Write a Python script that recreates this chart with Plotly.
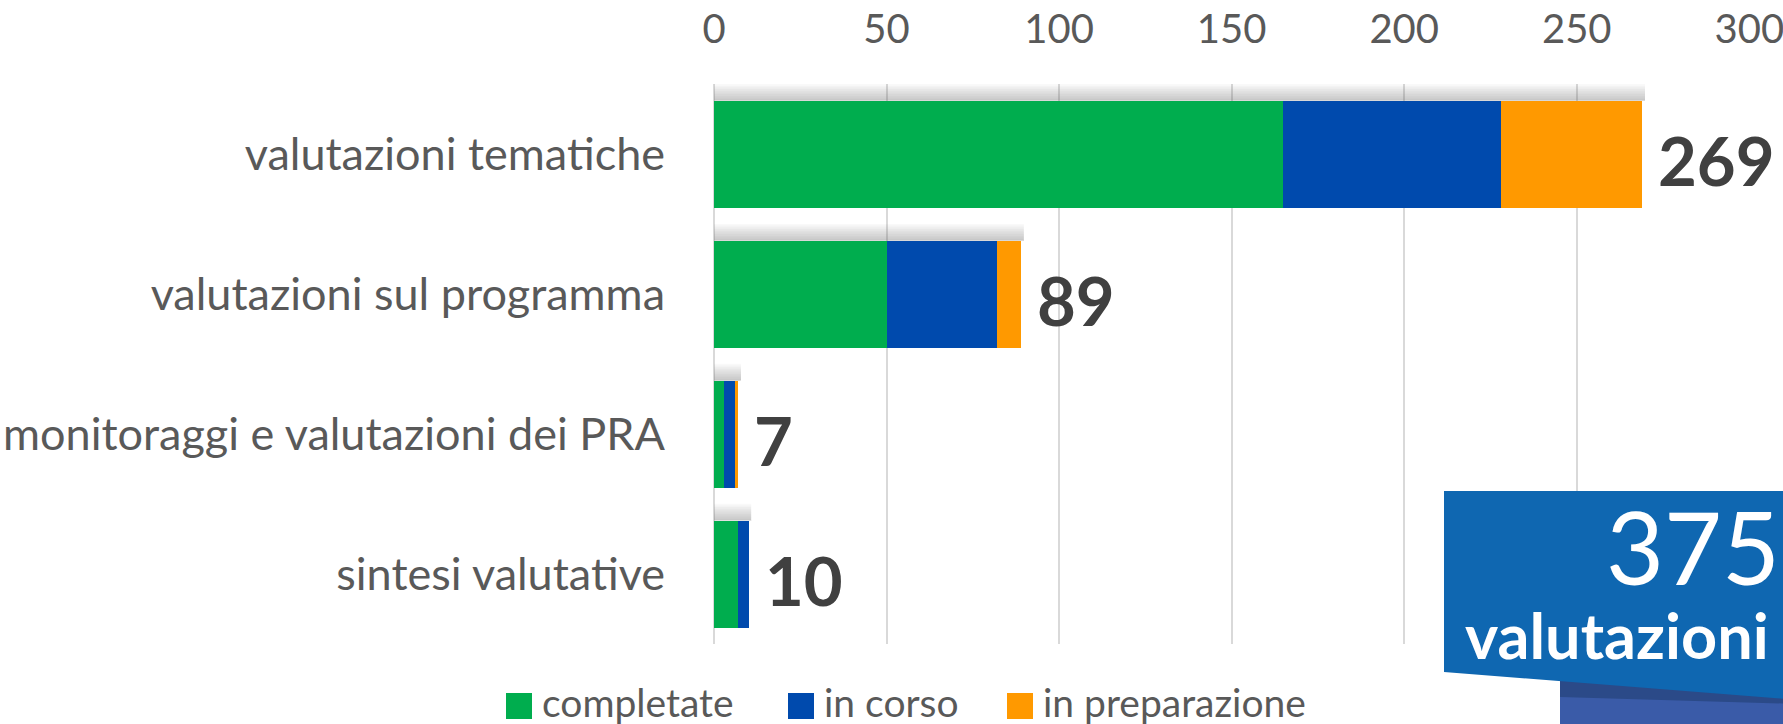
import plotly.graph_objects as go

categories = ["valutazioni tematiche", "valutazioni sul programma",
              "monitoraggi e valutazioni dei PRA", "sintesi valutative"]
completate = [165, 50, 3, 7]
in_corso = [63, 32, 3, 3]
in_preparazione = [41, 7, 1, 0]
series_names = ["completate", "in corso", "in preparazione"]
colors = ["#00AD4E", "#004AAD", "#FF9900"]
tick_values = [0, 50, 100, 150, 200, 250, 300]
banner_number = "375"
banner_text = "valutazioni"

totals = [a + b + c for a, b, c in zip(completate, in_corso, in_preparazione)]

W, H = 1783, 724
L, R, T, B = 714, 33, 84, 80
pw, ph = W - L - R, H - T - B

def px(x):
    return (x - L) / pw

def py(y):
    return (H - B - y) / ph

FONT = "Lato, 'Open Sans', sans-serif"
order = list(reversed(categories))

fig = go.Figure()
for name, vals, col in zip(series_names, [completate, in_corso, in_preparazione], colors):
    fig.add_trace(go.Bar(y=categories, x=vals, name=name, orientation="h",
                         marker=dict(color=col, line=dict(width=0)), showlegend=False))

shapes = []
annotations = []
bar_half = (1 - 0.235) / 2
for cat, tot in zip(categories, totals):
    k = order.index(cat)
    top = k + bar_half
    # soft shadow above the bar
    n = 10
    for j in range(n):
        shapes.append(dict(type="rect", xref="x", yref="y", layer="above",
                           x0=0, x1=tot + 0.8, y0=top, y1=top + 0.12 * (j + 1) / n,
                           fillcolor="rgba(90,90,90,0.04)", line=dict(width=0)))
    annotations.append(dict(x=tot, y=cat, xref="x", yref="y", text=f"<b>{tot}</b>",
                            showarrow=False, xanchor="left", xshift=14, yshift=-6,
                            font=dict(family=FONT, size=67, color="#404040")))

# banner
shapes.append(dict(type="path", xref="paper", yref="paper", layer="above",
                   path=f"M {px(1560)} {py(678)} L {px(1800)} {py(696)} L {px(1800)} {py(730)} L {px(1560)} {py(730)} Z",
                   fillcolor="#3A5BA8", line=dict(width=0)))
shapes.append(dict(type="path", xref="paper", yref="paper", layer="above",
                   path=f"M {px(1560)} {py(678)} L {px(1800)} {py(696)} L {px(1800)} {py(704)} L {px(1560)} {py(697)} Z",
                   fillcolor="#2B4A88", line=dict(width=0)))
shapes.append(dict(type="path", xref="paper", yref="paper", layer="above",
                   path=f"M {px(1444)} {py(491)} L {px(1800)} {py(491)} L {px(1800)} {py(700)} L {px(1444)} {py(672)} Z",
                   fillcolor="#0F67B1", line=dict(width=0)))
annotations.append(dict(x=px(1604), y=py(546), xref="paper", yref="paper", text=banner_number,
                        showarrow=False, xanchor="left", yanchor="middle",
                        font=dict(family=FONT, size=100, color="white")))
annotations.append(dict(x=px(1463), y=py(634), xref="paper", yref="paper", text=f"<b>{banner_text}</b>",
                        showarrow=False, xanchor="left", yanchor="middle",
                        font=dict(family=FONT, size=63, color="white")))

# custom legend
leg_sq = [506, 788, 1007]
for name, col, x0 in zip(series_names, colors, leg_sq):
    shapes.append(dict(type="rect", xref="paper", yref="paper",
                       x0=px(x0), x1=px(x0 + 26), y0=py(719), y1=py(693),
                       fillcolor=col, line=dict(width=0)))
    annotations.append(dict(x=px(x0 + 34), y=py(702), xref="paper", yref="paper", text=name,
                            showarrow=False, xanchor="left", yanchor="middle",
                            font=dict(family=FONT, size=39, color="#595959")))

fig.update_layout(
    barmode="stack", bargap=0.235,
    width=W, height=H,
    margin=dict(l=L, r=R, t=T, b=B, pad=0, autoexpand=False),
    paper_bgcolor="white", plot_bgcolor="white",
    shapes=shapes, annotations=annotations,
    xaxis=dict(side="top", range=[0, 300.2], tickvals=tick_values, showgrid=True, automargin=False,
               gridcolor="#D9D9D9", gridwidth=2, zeroline=True, zerolinecolor="#D9D9D9",
               zerolinewidth=2, ticks="", ticklabelstandoff=32, ticklabeloverflow="allow",
               tickfont=dict(family=FONT, size=40, color="#595959")),
    yaxis=dict(categoryorder="array", categoryarray=order, showgrid=False, ticks="", automargin=False,
               ticklabelstandoff=48, tickfont=dict(family=FONT, size=45, color="#595959")),
    showlegend=False,
)

fig.write_html("out.html", config={"displayModeBar": False},
               post_script="document.body.style.margin='0';document.body.style.overflow='hidden';")
